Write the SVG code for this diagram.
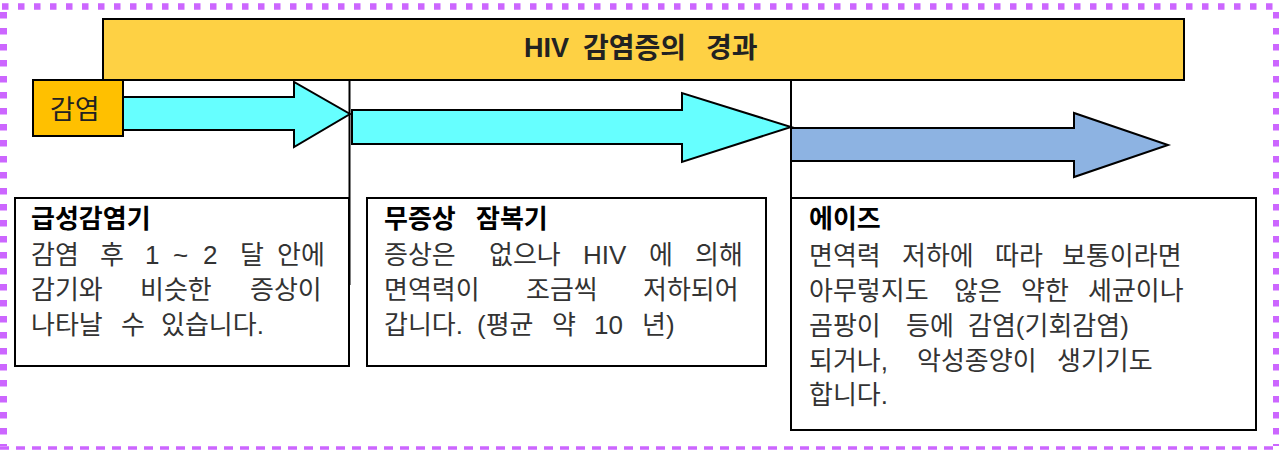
<svg xmlns="http://www.w3.org/2000/svg" width="1279" height="450" viewBox="0 0 1279 450">
<style>
text{font-family:'Liberation Sans','Noto Sans CJK KR',sans-serif}
.box{fill:#fff;stroke:#000;stroke-width:2}
.b{font-size:26px;fill:#333}
.t{font-size:26px;font-weight:bold;fill:#000}
.ar{stroke:#000;stroke-width:2;stroke-linejoin:miter}
.vl{stroke:#000;stroke-width:2}
</style>
<rect width="1279" height="450" fill="#fff"/>
<g id="frame" fill="none" stroke="#cc66ff">
<line x1="0" y1="6.5" x2="1279" y2="6.5" stroke-width="6.5" stroke-dasharray="6.5 9.5" stroke-dashoffset="-2"/>
<line x1="3.5" y1="10" x2="3.5" y2="446" stroke-width="7" stroke-dasharray="6.5 9.5" stroke-dashoffset="-2"/>
<line x1="1276" y1="10" x2="1276" y2="446" stroke-width="6" stroke-dasharray="6.5 9.5" stroke-dashoffset="-2"/>
<line x1="0" y1="448" x2="1279" y2="448" stroke-width="3.5" stroke-dasharray="9 7"/>
</g>
<g id="title">
<rect x="103" y="19" width="1081" height="61" fill="#fed144" stroke="#000" stroke-width="2"/>
<text x="524" y="57" font-size="27" font-weight="bold" fill="#222">HIV</text>
<text x="583" y="58" font-size="28" font-weight="bold" fill="#222">감염증의</text>
<text x="706" y="58" font-size="28" font-weight="bold" fill="#222">경과</text>
</g>
<g id="connectors">
<polygon class="ar" fill="#66ffff" points="123,97 294,97 294,82 350,114 294,147 294,130 123,130"/>
<polygon class="ar" fill="#66ffff" points="352,110 682,110 682,93 791,127 682,162 682,144 352,144"/>
<polygon class="ar" fill="#8db3e2" points="791,128 1074,128 1074,113 1168,145 1074,177 1074,161 791,161"/>
<line class="vl" x1="349.5" y1="80" x2="349.5" y2="285"/>
<line class="vl" x1="791" y1="80" x2="791" y2="198"/>
</g>
<g id="infection">
<rect x="33" y="80" width="90" height="56" fill="#ffc000" stroke="#000" stroke-width="2"/>
<text x="50" y="119" font-size="27" fill="#222">감염</text>
</g>
<g id="acute">
<rect class="box" x="15" y="198" width="334" height="168"/>
<text class="t" x="31" y="228">급성감염기</text>
<text class="b" y="264"><tspan x="31">감염</tspan><tspan x="100">후</tspan><tspan x="145">1</tspan><tspan x="173">~</tspan><tspan x="203">2</tspan><tspan x="240">달</tspan><tspan x="277">안에</tspan></text>
<text class="b" y="299"><tspan x="31">감기와</tspan><tspan x="140">비슷한</tspan><tspan x="250">증상이</tspan></text>
<text class="b" y="334"><tspan x="31">나타날</tspan><tspan x="121">수</tspan><tspan x="161">있습니다.</tspan></text>
</g>
<g id="latent">
<rect class="box" x="367" y="198" width="399" height="168"/>
<text class="t" y="228"><tspan x="384">무증상</tspan><tspan x="476">잠복기</tspan></text>
<text class="b" y="264"><tspan x="384">증상은</tspan><tspan x="489">없으나</tspan><tspan x="583">HIV</tspan><tspan x="649">에</tspan><tspan x="695">의해</tspan></text>
<text class="b" y="299"><tspan x="384">면역력이</tspan><tspan x="526">조금씩</tspan><tspan x="643">저하되어</tspan></text>
<text class="b" y="334"><tspan x="384">갑니다.</tspan><tspan x="477">(평균</tspan><tspan x="552">약</tspan><tspan x="594">10</tspan><tspan x="642">년)</tspan></text>
</g>
<g id="aids">
<rect class="box" x="791" y="198" width="465" height="232"/>
<text class="t" x="809" y="228">에이즈</text>
<text class="b" y="265"><tspan x="809">면역력</tspan><tspan x="902">저하에</tspan><tspan x="995">따라</tspan><tspan x="1062">보통이라면</tspan></text>
<text class="b" y="300"><tspan x="809">아무렇지도</tspan><tspan x="954">않은</tspan><tspan x="1021">약한</tspan><tspan x="1088">세균이나</tspan></text>
<text class="b" y="335"><tspan x="809">곰팡이</tspan><tspan x="906">등에</tspan><tspan x="968">감염(기회감염)</tspan></text>
<text class="b" y="370"><tspan x="809">되거나,</tspan><tspan x="917">악성종양이</tspan><tspan x="1057">생기기도</tspan></text>
<text class="b" x="809" y="404">합니다.</text>
</g>
</svg>
